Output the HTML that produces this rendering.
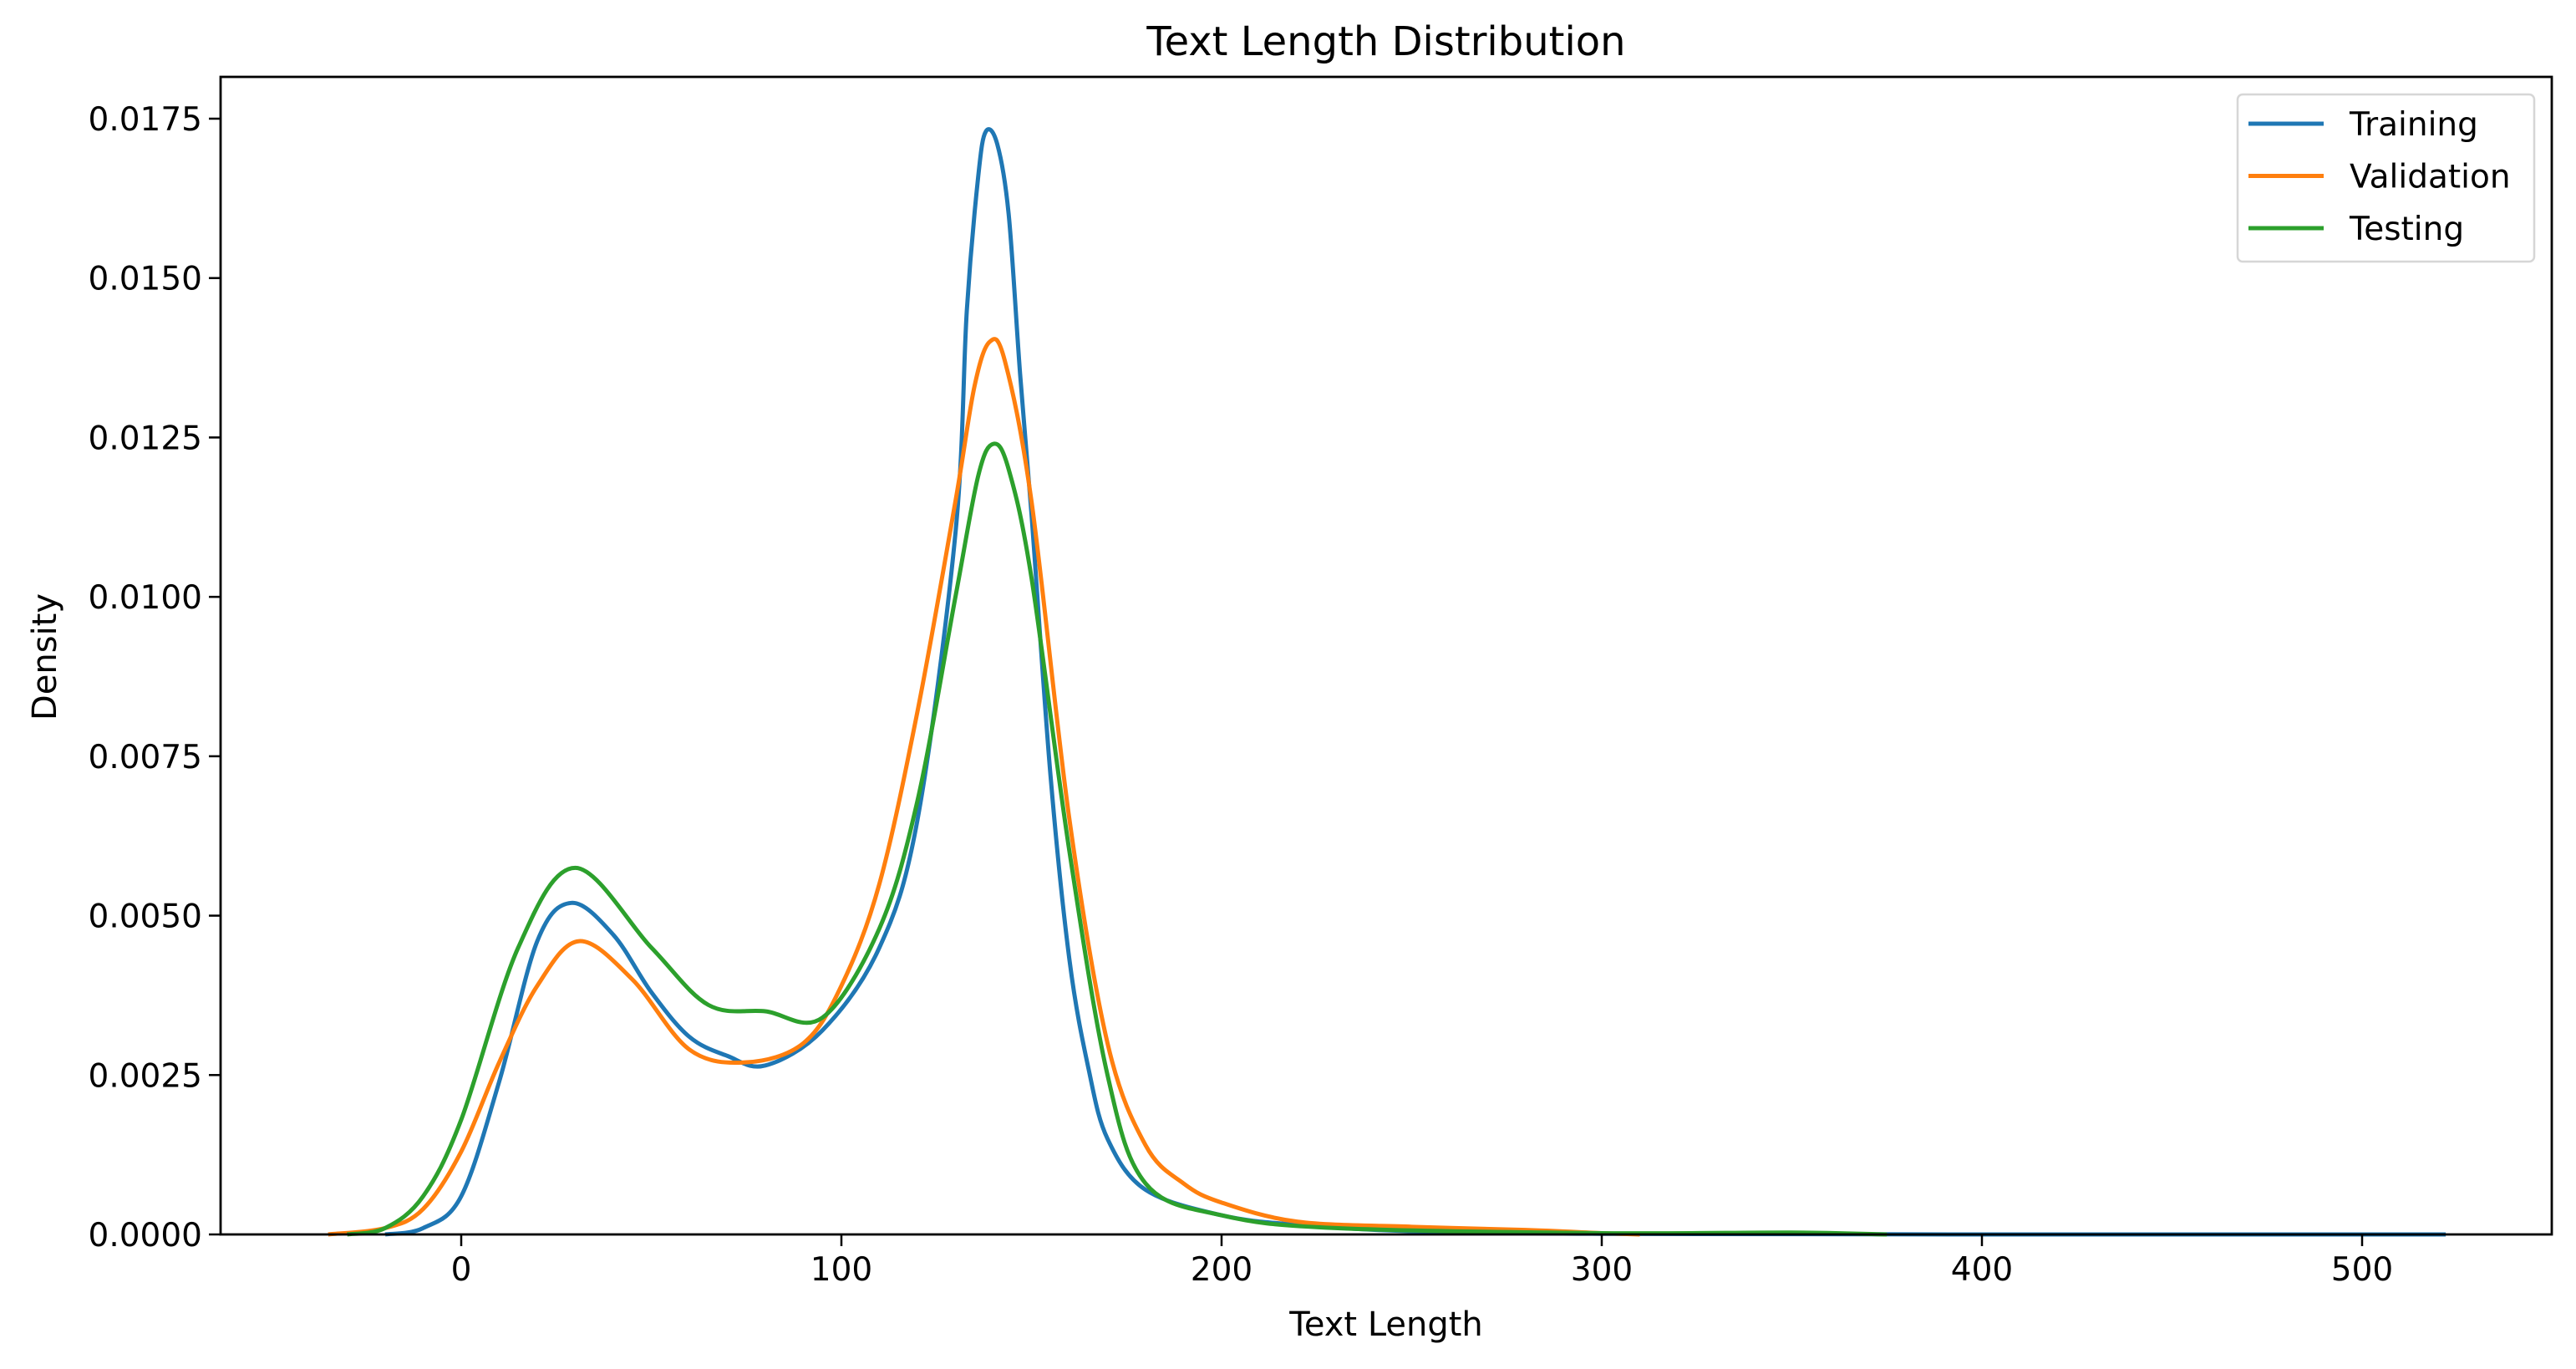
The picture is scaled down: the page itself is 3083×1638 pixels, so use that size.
<!DOCTYPE html>
<html><head><meta charset="utf-8"><style>
body{margin:0;background:#fff}
svg{display:block;font-family:"DejaVu Sans","Liberation Sans",sans-serif}
</style></head><body>
<svg id="chart" width="3083" height="1638" viewBox="0 0 3083 1638">
<text x="1659" y="66" font-size="48" text-anchor="middle">Text Length Distribution</text>
<g id="plot"></g>
<text x="1659" y="1598" font-size="40" text-anchor="middle">Text Length</text>
<text x="0" y="0" font-size="40" text-anchor="middle" transform="translate(67,786) rotate(-90)">Density</text>
</svg>
<script>
const xTicks=[0,100,200,300,400,500];
const yTicks=[0,0.0025,0.005,0.0075,0.01,0.0125,0.015,0.0175];
const yTickLabels=["0.0000","0.0025","0.0050","0.0075","0.0100","0.0125","0.0150","0.0175"];
const seriesNames=["Training","Validation","Testing"];
const seriesColors=["#1f77b4","#ff7f0e","#2ca02c"];
const trainX=[-20,-10,0,10,20,29,40,50,60,70,80,95,110,120,130,133,136,138,141,144,147,150,155,160,165,170,180,200,220,250,300,400,522];
const trainY=[0,0.0001,0.0006,0.0024,0.0046,0.0052,0.0047,0.0038,0.0031,0.0028,0.00265,0.0032,0.0045,0.0065,0.011,0.0145,0.0166,0.0173,0.0171,0.016,0.0135,0.0113,0.0072,0.0043,0.0026,0.0015,0.0007,0.0003,0.00015,0.00005,0.00001,0,0];
const valX=[-35,-20,-10,0,10,20,31,45,60,75,90,100,110,120,130,135,139,143,150,160,170,180,190,200,220,250,280,300,310];
const valY=[0,0.0001,0.0004,0.0013,0.0027,0.0039,0.0046,0.0040,0.0029,0.0027,0.0030,0.0039,0.0055,0.0082,0.0115,0.0133,0.0140,0.0137,0.0115,0.0065,0.0030,0.0014,0.0008,0.0005,0.0002,0.00012,0.00007,0.00002,0];
const testX=[-30,-20,-10,0,15,30,50,65,80,95,110,120,130,136,140,144,150,160,170,180,200,230,300,350,375];
const testY=[0,0.0001,0.0006,0.0018,0.0045,0.00575,0.0045,0.0036,0.0035,0.0034,0.0048,0.0068,0.0100,0.0119,0.0124,0.0120,0.0103,0.0060,0.0025,0.0008,0.0003,0.0001,0.00002,0.00003,0];
const L=264,R=3054,T=92,B=1477;
const sx=v=>552+v*4.55;
const sy=v=>B-v/0.0175*(B-142);
const NS="http://www.w3.org/2000/svg";
const g=document.getElementById('plot');
function mk(t,a){const e=document.createElementNS(NS,t);for(const k in a)e.setAttribute(k,a[k]);return e;}
function path(xs,ys){
  const p=xs.map((x,i)=>[sx(x),sy(ys[i])]);
  let d="M"+p[0][0]+","+p[0][1];
  for(let i=0;i<p.length-1;i++){
    const p0=p[i-1]||p[i],p1=p[i],p2=p[i+1],p3=p[i+2]||p2;
    const c1=[p1[0]+(p2[0]-p0[0])/6,p1[1]+(p2[1]-p0[1])/6];
    const c2=[p2[0]-(p3[0]-p1[0])/6,p2[1]-(p3[1]-p1[1])/6];
    d+=` C${c1[0]},${Math.min(B,c1[1])} ${c2[0]},${Math.min(B,c2[1])} ${p2[0]},${p2[1]}`;
  }
  return d;
}
const data=[[trainX,trainY],[valX,valY],[testX,testY]];
data.forEach((s,i)=>{
  const e=mk('path',{d:path(s[0],s[1]),fill:'none',stroke:seriesColors[i],'stroke-width':5,'stroke-linejoin':'round'});
  
  
  g.appendChild(e);
});
const frame=mk('rect',{x:L,y:T,width:R-L,height:B-T,fill:'none',stroke:'#000','stroke-width':2.8});


g.appendChild(frame);
xTicks.forEach(v=>{
  const t=mk('line',{x1:sx(v),x2:sx(v),y1:B,y2:B+14,stroke:'#000','stroke-width':2.5});
  
  
  g.appendChild(t);
  const tx=mk('text',{x:sx(v),y:B+55,'font-size':39,'text-anchor':'middle'});
  tx.textContent=v;
  
  
  g.appendChild(tx);
});
yTicks.forEach((v,i)=>{
  const t=mk('line',{x1:L-14,x2:L,y1:sy(v),y2:sy(v),stroke:'#000','stroke-width':2.5});
  
  
  g.appendChild(t);
  const tx=mk('text',{x:L-22,y:sy(v)+14,'font-size':39,'text-anchor':'end'});
  tx.textContent=yTickLabels[i];
  
  
  g.appendChild(tx);
});
const lg=mk('g',{});


g.appendChild(lg);
const box=mk('rect',{x:2678,y:113,width:355,height:200,rx:6,fill:'#fff',stroke:'#d6d6d6','stroke-width':2.5});


lg.appendChild(box);
seriesNames.forEach((n,i)=>{
  const y=148+i*62.5;
  const l=mk('line',{x1:2691,x2:2781,y1:y,y2:y,stroke:seriesColors[i],'stroke-width':5});
  
  
  lg.appendChild(l);
  const t=mk('text',{x:2812,y:y+14,'font-size':39});
  t.textContent=n;
  
  
  lg.appendChild(t);
});
</script>
</body></html>
